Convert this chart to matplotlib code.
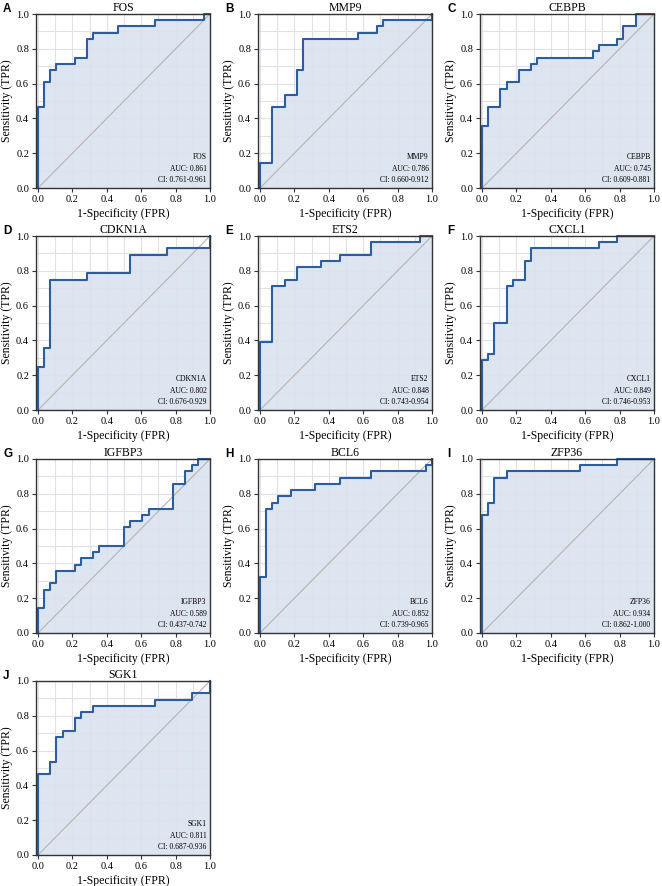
import matplotlib
matplotlib.use("Agg")
import matplotlib.pyplot as plt
from matplotlib.ticker import MultipleLocator

plt.rcParams['font.family'] = ['Liberation Serif', 'DejaVu Serif']

genes = ['FOS', 'MMP9', 'CEBPB', 'CDKN1A', 'ETS2', 'CXCL1', 'IGFBP3', 'BCL6', 'ZFP36', 'SGK1']
letters = ['A', 'B', 'C', 'D', 'E', 'F', 'G', 'H', 'I', 'J']
auc = ['0.861', '0.786', '0.745', '0.802', '0.848', '0.849', '0.589', '0.852', '0.934', '0.811']
ci = ['0.761-0.961', '0.660-0.912', '0.609-0.881', '0.676-0.929', '0.743-0.954',
      '0.746-0.953', '0.437-0.742', '0.739-0.965', '0.862-1.000', '0.687-0.936']

# ROC staircase corners: fpr value and the tpr reached at that fpr
fos_fpr = [0, 0.036, 0.071, 0.107, 0.214, 0.286, 0.321, 0.464, 0.679, 0.964, 1.0]
fos_tpr = [0.464, 0.607, 0.679, 0.714, 0.750, 0.857, 0.893, 0.929, 0.964, 1.0, 1.0]
mmp9_fpr = [0, 0.071, 0.143, 0.214, 0.250, 0.571, 0.679, 0.714, 1.0]
mmp9_tpr = [0.143, 0.464, 0.536, 0.679, 0.857, 0.893, 0.929, 0.964, 1.0]
cebpb_fpr = [0, 0.036, 0.107, 0.143, 0.214, 0.286, 0.321, 0.643, 0.679, 0.786, 0.821, 0.893, 1.0]
cebpb_tpr = [0.357, 0.464, 0.571, 0.607, 0.679, 0.714, 0.750, 0.786, 0.821, 0.857, 0.929, 1.0, 1.0]
cdkn1a_fpr = [0, 0.036, 0.071, 0.286, 0.536, 0.750, 1.0]
cdkn1a_tpr = [0.250, 0.357, 0.750, 0.786, 0.893, 0.929, 1.0]
ets2_fpr = [0, 0.071, 0.143, 0.214, 0.357, 0.464, 0.643, 0.929, 1.0]
ets2_tpr = [0.393, 0.714, 0.750, 0.821, 0.857, 0.893, 0.964, 1.0, 1.0]
cxcl1_fpr = [0, 0.036, 0.071, 0.143, 0.179, 0.250, 0.286, 0.679, 0.786, 1.0]
cxcl1_tpr = [0.286, 0.321, 0.500, 0.714, 0.750, 0.857, 0.929, 0.964, 1.0, 1.0]
igfbp3_fpr = [0, 0.036, 0.071, 0.107, 0.214, 0.250, 0.321, 0.357, 0.500, 0.536,
              0.607, 0.643, 0.786, 0.857, 0.893, 0.929, 1.0]
igfbp3_tpr = [0.143, 0.250, 0.286, 0.357, 0.393, 0.429, 0.464, 0.500, 0.607, 0.643,
              0.679, 0.714, 0.857, 0.929, 0.964, 1.0, 1.0]
bcl6_fpr = [0, 0.036, 0.071, 0.107, 0.179, 0.321, 0.464, 0.643, 0.964, 1.0]
bcl6_tpr = [0.321, 0.714, 0.750, 0.786, 0.821, 0.857, 0.893, 0.929, 0.964, 1.0]
zfp36_fpr = [0, 0.036, 0.071, 0.143, 0.571, 0.786, 1.0]
zfp36_tpr = [0.679, 0.750, 0.893, 0.929, 0.964, 1.0, 1.0]
sgk1_fpr = [0, 0.071, 0.107, 0.143, 0.214, 0.250, 0.321, 0.679, 0.893, 1.0]
sgk1_tpr = [0.464, 0.536, 0.679, 0.714, 0.786, 0.821, 0.857, 0.893, 0.929, 1.0]

curves = [(fos_fpr, fos_tpr), (mmp9_fpr, mmp9_tpr), (cebpb_fpr, cebpb_tpr),
          (cdkn1a_fpr, cdkn1a_tpr), (ets2_fpr, ets2_tpr), (cxcl1_fpr, cxcl1_tpr),
          (igfbp3_fpr, igfbp3_tpr), (bcl6_fpr, bcl6_tpr), (zfp36_fpr, zfp36_tpr),
          (sgk1_fpr, sgk1_tpr)]


def staircase(fpr, tpr):
    xs, ys = [0], [0]
    for f, t in zip(fpr, tpr):
        xs += [f, f]
        ys += [ys[-1], t]
    return xs, ys


W, H = 662, 886
fig = plt.figure(figsize=(W / 100, H / 100), dpi=100)

col_left = [36, 258, 480]
row_top = [14, 236, 459, 681]
size = 174

for i, g in enumerate(genes):
    r, c = divmod(i, 3)
    x0 = col_left[c]
    y0 = row_top[r]
    ax = fig.add_axes([x0 / W, 1 - (y0 + size) / H, size / W, size / H])
    ax.set_xlim(-0.012, 1.0)
    ax.set_ylim(0, 1.0)
    ax.xaxis.set_major_locator(MultipleLocator(0.2))
    ax.yaxis.set_major_locator(MultipleLocator(0.2))
    ax.xaxis.set_minor_locator(MultipleLocator(0.1))
    ax.yaxis.set_minor_locator(MultipleLocator(0.1))
    ax.grid(which='both', color='#e0e0e8', lw=0.8, zorder=2)
    ax.set_axisbelow(False)
    ax.tick_params(which='minor', length=0)
    ax.tick_params(which='major', length=3, width=0.8, labelsize=7.5, pad=2, color='#333333')

    xs, ys = staircase(*curves[i])
    ax.fill_between(xs, ys, 0, color='#dce5f0', lw=0, zorder=1)
    ax.plot([0, 1], [0, 1], color='#b4b4b4', lw=0.8, zorder=3)
    ax.plot(xs, ys, color='#2c5d9c', lw=1.5, zorder=4, clip_on=False)

    for s in ax.spines.values():
        s.set_color('#333333')
        s.set_linewidth(1.0)
        s.set_zorder(5)

    ax.set_title(g, fontsize=8.5, pad=2)
    ax.set_xlabel('1-Specificity (FPR)', fontsize=8.5, labelpad=3)
    ax.set_ylabel('Sensitivity (TPR)', fontsize=8.5, labelpad=2)

    ax.text(0.98, 0.18, g, transform=ax.transAxes, ha='right', va='center', fontsize=5.5)
    ax.text(0.98, 0.11, 'AUC: ' + auc[i], transform=ax.transAxes, ha='right', va='center', fontsize=5.5)
    ax.text(0.98, 0.045, 'CI: ' + ci[i], transform=ax.transAxes, ha='right', va='center', fontsize=5.5)

    fig.text((x0 - 33) / W, 1 - (y0 - 5) / H, letters[i], fontsize=8.5, fontweight='bold',
             family='Liberation Sans', ha='left', va='center')

fig.savefig('out.png', dpi=100)
